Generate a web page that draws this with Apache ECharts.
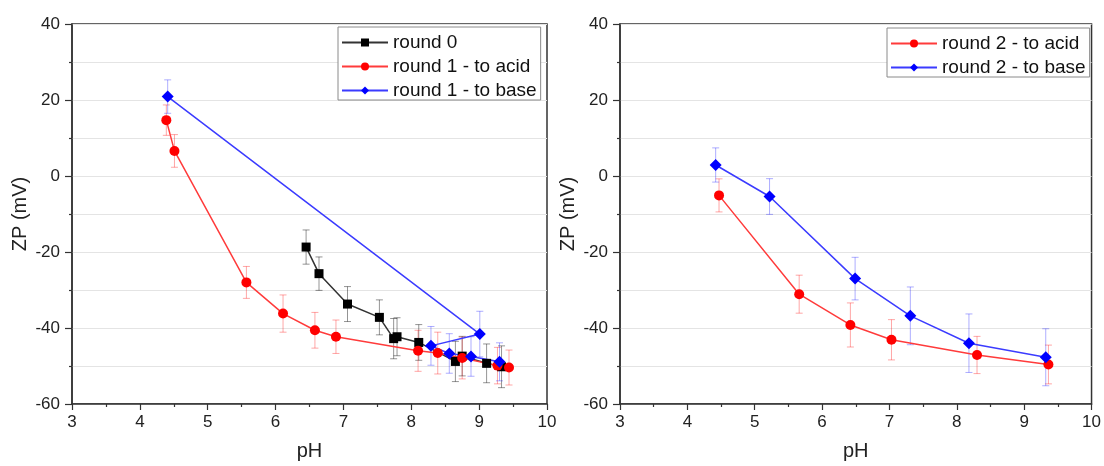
<!DOCTYPE html>
<html>
<head>
<meta charset="utf-8">
<title>ZP vs pH</title>
<script src="https://cdn.jsdelivr.net/npm/echarts@6/dist/echarts.min.js"></script>
<style>
  html, body { margin: 0; padding: 0; background: #fff; }
  #chart { width: 1104px; height: 466px; }
</style>
</head>
<body>
<div id="chart"></div>
<script>
// Axis ranges and tick spacing (shared by both panels)
const xRange = [3, 10];
const xStep = 1;
const yRange = [-60, 40];
const yStep = 20;

// Panel 1: round 0
const r0pH  = [6.45, 6.64, 7.06, 7.53, 7.74, 7.79, 8.11, 8.65, 8.75, 9.11, 9.33];
const r0ZP  = [-18.7, -25.7, -33.7, -37.2, -42.8, -42.3, -43.8, -48.8, -47.4, -49.3, -50.2];
const r0Err = [4.5, 4.4, 4.6, 4.6, 5.3, 5.0, 4.7, 5.3, 5.2, 5.1, 5.5];

// Panel 1: round 1 - to acid
const r1aPH  = [4.39, 4.51, 5.57, 6.11, 6.58, 6.89, 8.10, 8.39, 8.75, 9.27, 9.44];
const r1aZP  = [14.7, 6.6, -28.0, -36.2, -40.6, -42.3, -46.0, -46.6, -47.9, -49.9, -50.4];
const r1aErr = [4.0, 4.3, 4.2, 4.9, 4.7, 4.4, 5.4, 5.5, 5.5, 4.8, 4.6];

// Panel 1: round 1 - to base
const r1bPH  = [4.41, 9.01, 8.29, 8.56, 8.88, 9.30];
const r1bZP  = [20.9, -41.6, -44.7, -46.7, -47.5, -48.9];
const r1bErr = [4.4, 6.0, 5.1, 5.2, 5.2, 5.0];

// Panel 2: round 2 - to acid
const r2aPH  = [4.47, 5.66, 6.42, 7.03, 8.30, 9.36];
const r2aZP  = [-5.1, -31.1, -39.2, -43.1, -47.1, -49.6];
const r2aErr = [4.35, 5.0, 5.8, 5.3, 4.9, 5.1];

// Panel 2: round 2 - to base
const r2bPH  = [4.42, 5.22, 6.49, 7.31, 8.18, 9.32];
const r2bZP  = [2.9, -5.4, -27.0, -36.8, -44.0, -47.7];
const r2bErr = [4.5, 4.7, 5.6, 7.6, 7.7, 7.5];

const FONT = 'Liberation Sans, Arial, sans-serif';

function pairs(xs, ys) { return xs.map((x, i) => [x, ys[i]]); }
function triples(xs, ys, es) { return xs.map((x, i) => [x, ys[i], es[i]]); }

// Vertical error bar with small caps
function errorBars(name, gridIdx, xs, ys, es, stroke) {
  return {
    type: 'custom',
    name: name + ' err',
    xAxisIndex: gridIdx,
    yAxisIndex: gridIdx,
    z: 1,
    silent: true,
    encode: { x: 0, y: 1 },
    data: triples(xs, ys, es),
    renderItem: function (params, api) {
      const x = api.value(0), y = api.value(1), e = api.value(2);
      const t = api.coord([x, y + e]);
      const b = api.coord([x, y - e]);
      const hw = 3.5;
      const st = { stroke: stroke, lineWidth: 1 };
      return {
        type: 'group',
        children: [
          { type: 'line', shape: { x1: t[0], y1: t[1], x2: b[0], y2: b[1] }, style: st },
          { type: 'line', shape: { x1: t[0] - hw, y1: t[1], x2: t[0] + hw, y2: t[1] }, style: st },
          { type: 'line', shape: { x1: b[0] - hw, y1: b[1], x2: b[0] + hw, y2: b[1] }, style: st }
        ]
      };
    }
  };
}

function lineSeries(name, gridIdx, xs, ys, color, lineColor, symbol, size) {
  return {
    type: 'line',
    name: name,
    xAxisIndex: gridIdx,
    yAxisIndex: gridIdx,
    z: 3,
    data: pairs(xs, ys),
    symbol: symbol,
    symbolSize: size,
    showAllSymbol: true,
    itemStyle: { color: color },
    lineStyle: { color: lineColor, width: 1.5 },
    emphasis: { disabled: true },
    animation: false
  };
}

function xAxisOf(gridIdx) {
  return {
    type: 'value',
    gridIndex: gridIdx,
    min: xRange[0], max: xRange[1], interval: xStep,
    name: 'pH',
    nameLocation: 'middle',
    nameGap: 37,
    nameTextStyle: { fontFamily: FONT, fontSize: 20, color: '#222' },
    axisLine: { show: true, onZero: false, lineStyle: { color: '#333', width: 1.5 } },
    axisTick: { show: true, inside: false, length: 6, lineStyle: { color: '#333', width: 1.2 } },
    minorTick: { show: true, splitNumber: 2, length: 3, lineStyle: { color: '#333', width: 1.2 } },
    axisLabel: { fontFamily: FONT, fontSize: 17, color: '#222', margin: 10 },
    splitLine: { show: false },
    minorSplitLine: { show: false }
  };
}

function yAxisOf(gridIdx) {
  return {
    type: 'value',
    gridIndex: gridIdx,
    min: yRange[0], max: yRange[1], interval: yStep,
    name: 'ZP (mV)',
    nameLocation: 'middle',
    nameGap: 42,
    nameTextStyle: { fontFamily: FONT, fontSize: 20, color: '#222' },
    axisLine: { show: true, onZero: false, lineStyle: { color: '#333', width: 1.5 } },
    axisTick: { show: true, inside: false, length: 7, lineStyle: { color: '#333', width: 1.2 } },
    minorTick: { show: true, splitNumber: 2, length: 3, lineStyle: { color: '#333', width: 1.2 } },
    axisLabel: { fontFamily: FONT, fontSize: 17, color: '#222', margin: 12 },
    splitLine: { show: true, lineStyle: { color: '#e4e4e4', width: 1 } },
    minorSplitLine: { show: true, lineStyle: { color: '#e4e4e4', width: 1 } }
  };
}

function legendOf(names, left, top) {
  return {
    data: names,
    orient: 'vertical',
    left: left,
    top: top,
    itemWidth: 46,
    itemHeight: 10,
    itemGap: 5,
    padding: [6, 4, 0, 3],
    borderColor: '#8a8a8a',
    borderWidth: 1,
    backgroundColor: '#fff',
    textStyle: { fontFamily: FONT, fontSize: 19, color: '#111' },
    selectedMode: false
  };
}

const chart = echarts.init(document.getElementById('chart'), null, { renderer: 'canvas' });

chart.setOption({
  animation: false,
  backgroundColor: '#fff',
  grid: [
    { left: 72, top: 24, width: 475, height: 383, show: true, borderColor: '#333', borderWidth: 1.5, backgroundColor: 'transparent' },
    { left: 620, top: 24, width: 475, height: 383, show: true, borderColor: '#333', borderWidth: 1.5, backgroundColor: 'transparent' }
  ],
  xAxis: [xAxisOf(0), xAxisOf(1)],
  yAxis: [yAxisOf(0), yAxisOf(1)],
  legend: [
    legendOf(['round 0', 'round 1 - to acid', 'round 1 - to base'], 338, 27),
    legendOf(['round 2 - to acid', 'round 2 - to base'], 887, 28)
  ],
  series: [
    errorBars('round 0', 0, r0pH, r0ZP, r0Err, 'rgba(0,0,0,0.42)'),
    errorBars('round 1 - to acid', 0, r1aPH, r1aZP, r1aErr, 'rgba(255,0,0,0.35)'),
    errorBars('round 1 - to base', 0, r1bPH, r1bZP, r1bErr, 'rgba(0,0,255,0.32)'),
    lineSeries('round 0', 0, r0pH, r0ZP, '#000000', '#333333', 'rect', 9),
    lineSeries('round 1 - to acid', 0, r1aPH, r1aZP, '#ff0000', '#ff3b3b', 'circle', 10),
    lineSeries('round 1 - to base', 0, r1bPH, r1bZP, '#0000ff', '#3b3bff', 'diamond', 12),

    errorBars('round 2 - to acid', 1, r2aPH, r2aZP, r2aErr, 'rgba(255,0,0,0.35)'),
    errorBars('round 2 - to base', 1, r2bPH, r2bZP, r2bErr, 'rgba(0,0,255,0.32)'),
    lineSeries('round 2 - to acid', 1, r2aPH, r2aZP, '#ff0000', '#ff3b3b', 'circle', 10),
    lineSeries('round 2 - to base', 1, r2bPH, r2bZP, '#0000ff', '#3b3bff', 'diamond', 12)
  ]
});
</script>
</body>
</html>
